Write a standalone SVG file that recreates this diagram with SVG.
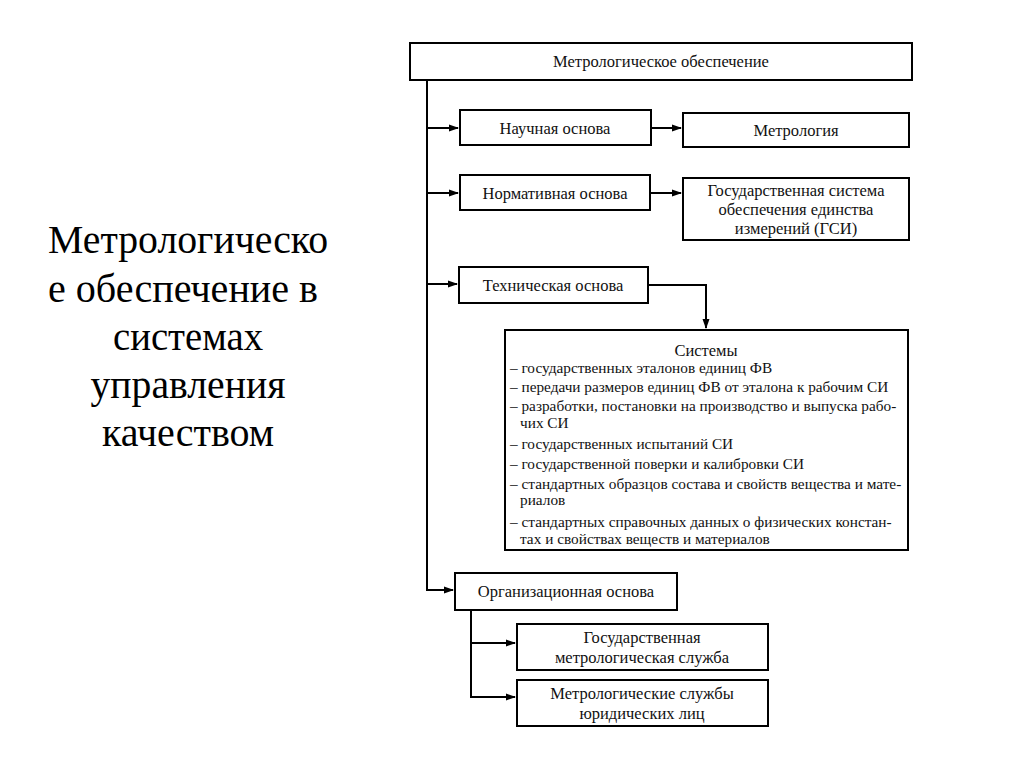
<svg xmlns="http://www.w3.org/2000/svg" width="1024" height="767" viewBox="0 0 1024 767">
<defs>
<marker id="ah" markerWidth="10" markerHeight="8" refX="9" refY="4" orient="auto" markerUnits="userSpaceOnUse">
<path d="M0,0.5 L10,4 L0,7.5 Z" fill="#000"/>
</marker>
<style>
text{font-family:'Liberation Serif','Times New Roman',serif}
.box{fill:#fff;stroke:#000;stroke-width:2}
.t{font-size:16.5px;fill:#111;text-anchor:middle}
.l{font-size:15.3px;fill:#111}
.title{font-size:40px;fill:#000;text-anchor:middle}
.c{fill:none;stroke:#000;stroke-width:2}
</style>
</defs>
<rect width="1024" height="767" fill="#fff"/>
<g id="title">
<text class="title" x="188" y="253" textLength="280" lengthAdjust="spacingAndGlyphs">Метрологическо</text>
<text class="title" x="183" y="302" textLength="270" lengthAdjust="spacingAndGlyphs">е обеспечение в</text>
<text class="title" x="188" y="350" textLength="150" lengthAdjust="spacingAndGlyphs">системах</text>
<text class="title" x="188" y="398" textLength="195" lengthAdjust="spacingAndGlyphs">управления</text>
<text class="title" x="188" y="446" textLength="172" lengthAdjust="spacingAndGlyphs">качеством</text>
</g>
<g id="connectors">
<path class="c" d="M427,80 V590 H453" marker-end="url(#ah)"/>
<path class="c" d="M427,128 H458" marker-end="url(#ah)"/>
<path class="c" d="M427,193 H458" marker-end="url(#ah)"/>
<path class="c" d="M427,284 H457" marker-end="url(#ah)"/>
<path class="c" d="M651,128 H681" marker-end="url(#ah)"/>
<path class="c" d="M650,193 H681" marker-end="url(#ah)"/>
<path class="c" d="M648,285 H706 V328" marker-end="url(#ah)"/>
<path class="c" d="M471,610 V697 H515" marker-end="url(#ah)"/>
<path class="c" d="M471,643 H515" marker-end="url(#ah)"/>
</g>
<g id="n-main">
<rect class="box" x="410" y="43" width="502" height="37"/>
<text class="t" x="661" y="67">Метрологическое обеспечение</text>
</g>
<g id="n-nauch">
<rect class="box" x="460" y="110" width="191" height="35"/>
<text class="t" x="555" y="134">Научная основа</text>
</g>
<g id="n-metrologiya">
<rect class="box" x="683" y="113" width="226" height="34"/>
<text class="t" x="796" y="136">Метрология</text>
</g>
<g id="n-norm">
<rect class="box" x="460" y="175" width="190" height="35"/>
<text class="t" x="555" y="199">Нормативная основа</text>
</g>
<g id="n-gsi">
<rect class="box" x="683" y="178" width="226" height="62"/>
<text class="t" x="796" y="196">Государственная система</text>
<text class="t" x="796" y="215">обеспечения единства</text>
<text class="t" x="796" y="234">измерений (ГСИ)</text>
</g>
<g id="n-tech">
<rect class="box" x="459" y="267" width="189" height="36"/>
<text class="t" x="553" y="291">Техническая основа</text>
</g>
<g id="n-systems">
<rect class="box" x="505" y="330" width="403" height="220"/>
<text class="t" x="706" y="356">Системы</text>
<text class="l" x="510" y="373">– государственных эталонов единиц ФВ</text>
<text class="l" x="510" y="392">– передачи размеров единиц ФВ от эталона к рабочим СИ</text>
<text class="l" x="510" y="411">– разработки, постановки на производство и выпуска рабо-</text>
<text class="l" x="520" y="428">чих СИ</text>
<text class="l" x="510" y="449">– государственных испытаний СИ</text>
<text class="l" x="510" y="469">– государственной поверки и калибровки СИ</text>
<text class="l" x="510" y="489">– стандартных образцов состава и свойств вещества и мате-</text>
<text class="l" x="520" y="505">риалов</text>
<text class="l" x="510" y="527">– стандартных справочных данных о физических констан-</text>
<text class="l" x="520" y="544">тах и свойствах веществ и материалов</text>
</g>
<g id="n-org">
<rect class="box" x="455" y="573" width="222" height="37"/>
<text class="t" x="566" y="597">Организационная основа</text>
</g>
<g id="n-gms">
<rect class="box" x="517" y="624" width="251" height="46"/>
<text class="t" x="642" y="643">Государственная</text>
<text class="t" x="642" y="663">метрологическая служба</text>
</g>
<g id="n-msul">
<rect class="box" x="517" y="680" width="251" height="46"/>
<text class="t" x="642" y="699">Метрологические службы</text>
<text class="t" x="642" y="719">юридических лиц</text>
</g>
</svg>
